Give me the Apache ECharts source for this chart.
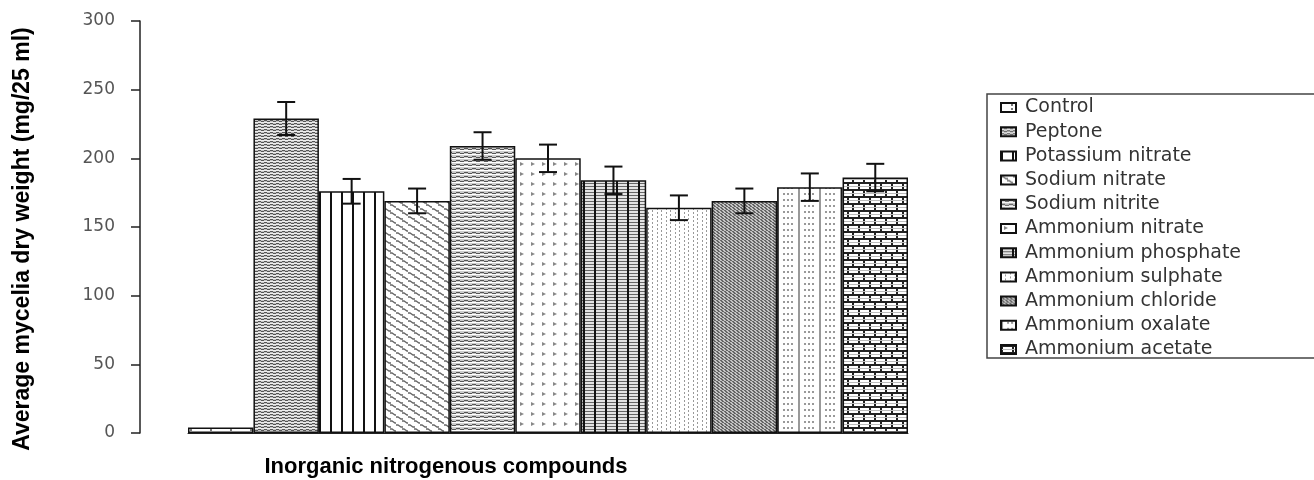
<!DOCTYPE html>
<html>
<head>
<meta charset="utf-8">
<script src="https://cdn.jsdelivr.net/npm/echarts@6/dist/echarts.min.js"></script>
<style>html,body{margin:0;padding:0;background:#fff}#c{width:1314px;height:480px}</style>
</head>
<body>
<div id="c"></div>
<script>
// ---- data ----
var categories = ['Control','Peptone','Potassium nitrate','Sodium nitrate','Sodium nitrite','Ammonium nitrate','Ammonium phosphate','Ammonium sulphate','Ammonium chloride','Ammonium oxalate','Ammonium acetate'];
var values = [4, 229, 176, 169, 209, 200, 184, 164, 169, 179, 186];
var errors = [0, 12, 9, 9, 10, 10, 10, 9, 9, 10, 10];
var yTicks = [0, 50, 100, 150, 200, 250, 300];
var yTitle = 'Average mycelia dry weight (mg/25 ml)';
var xTitle = 'Inorganic nitrogenous compounds';

// ---- pattern tiles (styling only) ----
function tile(w, h, bg, draw) {
  var c = document.createElement('canvas');
  c.width = w; c.height = h;
  var g = c.getContext('2d');
  g.fillStyle = bg; g.fillRect(0, 0, w, h);
  draw(g);
  return { image: c, repeat: 'repeat' };
}
var patterns = [
  tile(20, 4, '#ffffff', function (g) { g.fillStyle = '#777'; g.fillRect(10, 1, 2, 2); }),
  tile(6, 3, '#c4c4c4', function (g) { g.fillStyle = '#555'; g.fillRect(0, 0, 3, 1); g.fillRect(3, 1, 3, 1); g.fillStyle = '#eee'; g.fillRect(0, 2, 6, 1); }),
  tile(11, 4, '#ffffff', function (g) { g.fillStyle = '#111'; g.fillRect(0, 0, 2, 4); }),
  tile(12, 8, '#ffffff', function (g) {
    g.strokeStyle = '#666'; g.lineWidth = 1.3;
    g.beginPath(); g.moveTo(0, 1); g.lineTo(2, 1); g.lineTo(5, 3); g.lineTo(7, 3);
    g.moveTo(6, 5); g.lineTo(8, 5); g.lineTo(11, 7); g.lineTo(12, 7); g.stroke();
  }),
  tile(8, 4, '#cccccc', function (g) { g.fillStyle = '#555'; g.fillRect(0, 0, 4, 1); g.fillRect(4, 1, 4, 1); g.fillStyle = '#fff'; g.fillRect(0, 2, 8, 1); }),
  tile(11, 10, '#ffffff', function (g) {
    g.fillStyle = '#888';
    g.beginPath(); g.moveTo(3, 2); g.lineTo(7, 4); g.lineTo(3, 6); g.closePath(); g.fill();
  }),
  tile(11, 3, '#e4e4e4', function (g) { g.fillStyle = '#666'; g.fillRect(0, 0, 11, 1); g.fillStyle = '#111'; g.fillRect(0, 0, 2, 3); }),
  tile(9, 4, '#ffffff', function (g) { g.fillStyle = '#999'; g.fillRect(0, 0, 1, 2); g.fillRect(4, 2, 1, 2); }),
  tile(4, 3, '#c4c4c4', function (g) { g.fillStyle = '#666'; g.fillRect(0, 0, 2, 1); g.fillRect(1, 1, 2, 1); g.fillRect(2, 2, 2, 1); }),
  tile(21, 6, '#ffffff', function (g) { g.fillStyle = '#999'; g.fillRect(0, 0, 2, 6); g.fillRect(6, 1, 2, 2); g.fillRect(10, 1, 2, 2); g.fillRect(14, 1, 2, 2); }),
  tile(22, 14, '#ffffff', function (g) {
    g.fillStyle = '#222'; g.fillRect(0, 0, 22, 2); g.fillRect(0, 7, 22, 2);
    g.fillRect(0, 2, 2, 5); g.fillRect(11, 2, 2, 5);
    g.fillRect(5, 9, 2, 5); g.fillRect(16, 9, 2, 5);
    g.fillStyle = '#bbb'; g.fillRect(0, 4, 22, 1); g.fillRect(0, 11, 22, 1);
  })
];

var series = categories.map(function (name, i) {
  var d = categories.map(function (_, j) { return j === i ? values[i] : '-'; });
  return {
    name: name, type: 'bar', stack: 'all', barWidth: '100%', data: d,
    itemStyle: { color: patterns[i], borderColor: '#111', borderWidth: 1.5 },
    emphasis: { disabled: true }
  };
});
var errData = categories.map(function (_, i) { return [i, values[i] - errors[i], values[i] + errors[i]]; })
  .filter(function (d) { return d[2] > d[1]; });
series.push({
  type: 'custom', name: 'err', silent: true, z: 10,
  data: errData,
  encode: { x: 0, y: [1, 2] },
  renderItem: function (params, api) {
    var lo = api.coord([api.value(0), api.value(1)]);
    var hi = api.coord([api.value(0), api.value(2)]);
    var hw = 9;
    var st = { stroke: '#111', lineWidth: 2 };
    return { type: 'group', children: [
      { type: 'line', shape: { x1: hi[0], y1: hi[1], x2: lo[0], y2: lo[1] }, style: st },
      { type: 'line', shape: { x1: hi[0] - hw, y1: hi[1], x2: hi[0] + hw, y2: hi[1] }, style: st },
      { type: 'line', shape: { x1: lo[0] - hw, y1: lo[1], x2: lo[0] + hw, y2: lo[1] }, style: st }
    ] };
  }
});

var chart = echarts.init(document.getElementById('c'), null, { renderer: 'canvas' });
chart.setOption({
  animation: false,
  backgroundColor: '#fff',
  grid: { left: 188, right: 406, top: 21, bottom: 47 },
  xAxis: {
    type: 'category', data: categories, boundaryGap: true,
    axisLine: { show: true, lineStyle: { color: '#222', width: 1 } },
    axisTick: { show: false }, axisLabel: { show: false }, splitLine: { show: false }
  },
  yAxis: {
    type: 'value', min: yTicks[0], max: yTicks[yTicks.length - 1], interval: 50, offset: 48,
    axisLine: { show: true, lineStyle: { color: '#222', width: 1.5 } },
    axisTick: { show: true, length: 9, lineStyle: { color: '#222', width: 1.5 } },
    axisLabel: { margin: 25, fontFamily: 'DejaVu Sans', fontSize: 17, color: '#555' },
    splitLine: { show: false }
  },
  legend: {
    data: categories, orient: 'vertical', left: 995, top: 93,
    itemWidth: 15, itemHeight: 9, itemGap: 5.2, icon: 'rect',
    selectedMode: false,
    textStyle: { fontFamily: 'DejaVu Sans', fontSize: 19, lineHeight: 18, color: '#333', padding: [0, 0, 0, 4] }
  },
  graphic: [
    { type: 'rect', shape: { x: 987, y: 94, width: 340, height: 264 }, style: { fill: 'none', stroke: '#444', lineWidth: 1.5 }, silent: true },
    { type: 'text', x: 23, y: 239, rotation: Math.PI / 2, style: { text: yTitle, font: 'bold 23px "Liberation Sans", Arial', fill: '#000', align: 'center', verticalAlign: 'middle' } },
    { type: 'text', x: 446, y: 456, style: { text: xTitle, font: 'bold 22px "Liberation Sans", Arial', fill: '#000', align: 'center', verticalAlign: 'top' } }
  ],
  series: series
});
</script>
</body>
</html>
